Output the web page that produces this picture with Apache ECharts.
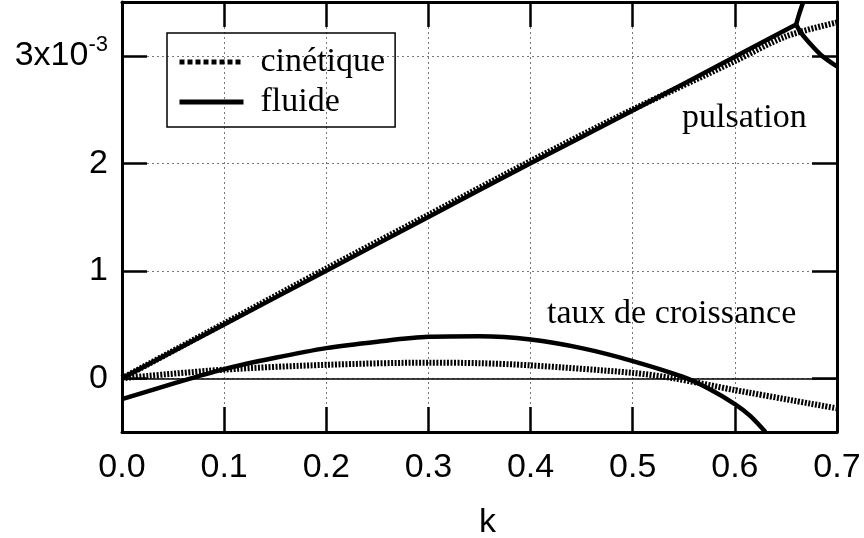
<!DOCTYPE html>
<html>
<head>
<meta charset="utf-8">
<script src="https://cdn.jsdelivr.net/npm/echarts@6/dist/echarts.min.js"></script>
<style>
  html, body { margin: 0; padding: 0; background: #fff; }
  #chart { width: 864px; height: 538px; }
</style>
</head>
<body>
<div id="chart"></div>
<script>
// valeurs en unités de 1e-3
const xTicks = [0, 0.1, 0.2, 0.3, 0.4, 0.5, 0.6, 0.7];
const yTicks = [0, 1, 2, 3];

// fluide (trait plein)
const fluidePulsation = [[0, 0], [0.1, 0.5], [0.2, 1.0], [0.3, 1.5], [0.4, 2.0], [0.5, 2.49], [0.6, 2.99], [0.66, 3.29]];
const fluideBrancheHaut = [[0.66, 3.29], [0.663, 3.39], [0.667, 3.5]];
const fluideBrancheBas = [[0.66, 3.29], [0.665, 3.21], [0.672, 3.13], [0.684, 3.01], [0.70, 2.90]];
const fluideCroissance = [[0, -0.195], [0.05, -0.05], [0.1, 0.085], [0.15, 0.19], [0.2, 0.28], [0.25, 0.34],
  [0.3, 0.385], [0.35, 0.39], [0.4, 0.36], [0.45, 0.28], [0.5, 0.16], [0.55, 0.01], [0.575, -0.1],
  [0.6, -0.24], [0.615, -0.35], [0.63, -0.5]];

// cinétique (pointillés)
const cinetiquePulsation = [[0, 0], [0.1, 0.51], [0.2, 1.02], [0.3, 1.52], [0.4, 2.02], [0.5, 2.5],
  [0.6, 2.95], [0.65, 3.18], [0.7, 3.31]];
const cinetiqueCroissance = [[0, 0], [0.1, 0.08], [0.2, 0.125], [0.3, 0.145], [0.35, 0.14], [0.4, 0.12],
  [0.5, 0.05], [0.54, 0], [0.6, -0.11], [0.7, -0.28]];

const sans = 'Liberation Sans, Arial, sans-serif';
const serif = 'Liberation Serif, Times New Roman, serif';

const solid = { color: '#000', width: 4.5, type: 'solid' };
const dots = { color: '#000', width: 6, type: [2, 1.5] };

function line(name, data, style) {
  return {
    type: 'line', name: name, data: data, showSymbol: false, symbol: 'none',
    smooth: 0.3, lineStyle: style, itemStyle: { color: '#000' }, silent: true,
    animation: false
  };
}

const tickStyle = { show: true, inside: true, length: 25, lineStyle: { color: '#000', width: 2.5 } };
const frameLine = { show: true, onZero: false, lineStyle: { color: '#000', width: 3 } };
const gridDots = { show: true, lineStyle: { color: '#777', width: 1, type: [2, 3] } };

const chart = echarts.init(document.getElementById('chart'));
const zero = line('fluide', fluidePulsation, solid);
zero.markLine = {
  silent: true, symbol: 'none', label: { show: false },
  lineStyle: { color: '#000', width: 1.5, type: 'solid' },
  data: [{ yAxis: 0 }]
};

chart.setOption({
  animation: false,
  grid: { left: 122, right: 27, top: 2, bottom: 106, containLabel: false, outerBoundsMode: 'none' },
  legend: {
    left: 167, top: 33, orient: 'vertical',
    padding: [12, 10, 8, 10], itemGap: 6, itemWidth: 64, itemHeight: 14,
    borderColor: '#000', borderWidth: 1.5, borderRadius: 0,
    itemStyle: { opacity: 0 },
    data: [
      { name: 'cinétique', lineStyle: { color: '#000', width: 5, type: [5, 3] } },
      { name: 'fluide', lineStyle: { color: '#000', width: 5, type: 'solid' } }
    ],
    textStyle: { fontFamily: serif, fontSize: 34, color: '#000', padding: [0, 0, 0, 12] }
  },
  xAxis: [{
    type: 'value', min: 0, max: 0.7, interval: 0.1,
    name: 'k', nameLocation: 'middle', nameGap: 74,
    nameTextStyle: { fontFamily: sans, fontSize: 34, color: '#000', padding: [0, 0, 0, 16] },
    axisLine: frameLine, axisTick: tickStyle, splitLine: gridDots,
    axisLabel: { margin: 19, fontFamily: sans, fontSize: 34, color: '#000',
      formatter: v => v.toFixed(1) }
  }, {
    type: 'value', position: 'top', min: 0, max: 0.7, interval: 0.1,
    axisLine: frameLine, axisTick: tickStyle, splitLine: { show: false }, axisLabel: { show: false }
  }],
  yAxis: [{
    type: 'value', min: -0.5, max: 3.5,
    axisLine: frameLine,
    axisTick: Object.assign({ customValues: yTicks }, tickStyle),
    splitLine: gridDots,
    axisLabel: {
      customValues: yTicks, margin: 14, fontFamily: sans, fontSize: 34, color: '#000',
      formatter: v => v === 3 ? '{a|3x10}{b|-3}' : String(v),
      rich: {
        a: { fontFamily: sans, fontSize: 34, color: '#000' },
        b: { fontFamily: sans, fontSize: 22, color: '#000', padding: [0, 0, 22, 0] }
      }
    }
  }, {
    type: 'value', position: 'right', min: -0.5, max: 3.5,
    axisLine: frameLine,
    axisTick: Object.assign({ customValues: yTicks }, tickStyle),
    splitLine: { show: false }, axisLabel: { show: false }
  }],
  graphic: [
    { type: 'text', x: 682, y: 118, style: { text: 'pulsation', font: '34px ' + serif, fill: '#000', verticalAlign: 'middle' } },
    { type: 'text', x: 547, y: 314, style: { text: 'taux de croissance', font: '34px ' + serif, fill: '#000', verticalAlign: 'middle' } }
  ],
  series: [
    line('cinétique', cinetiquePulsation, dots),
    line('cinétique', cinetiqueCroissance, dots),
    zero,
    line('fluide', fluideBrancheHaut, solid),
    line('fluide', fluideBrancheBas, solid),
    line('fluide', fluideCroissance, solid)
  ]
});
</script>
</body>
</html>
